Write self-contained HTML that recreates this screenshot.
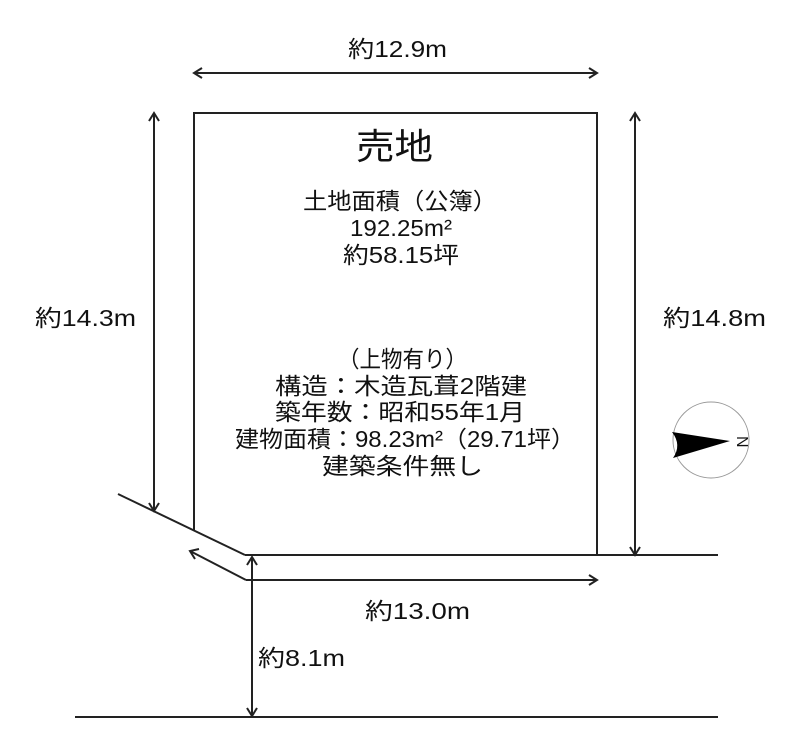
<!DOCTYPE html>
<html><head><meta charset="utf-8"><style>
html,body{margin:0;padding:0;background:#fff;}
svg{display:block;}
text{font-family:"Liberation Sans","Noto Sans CJK JP",sans-serif;fill:#111;}
</style></head><body>
<svg width="800" height="751" viewBox="0 0 800 751" xmlns="http://www.w3.org/2000/svg">
<g stroke="#222" stroke-width="2" fill="none">
<polyline points="194,531 194,113 597,113 597,555"/>
<line x1="118" y1="494" x2="245" y2="555"/>
<line x1="245" y1="555" x2="718" y2="555"/>
<line x1="246" y1="580" x2="190" y2="551"/>
<polyline points="199,549 190,551 195,559"/>
<line x1="246" y1="580" x2="597" y2="580"/>
<polyline points="589,575 597,580 589,585"/>
<line x1="75" y1="717" x2="718" y2="717"/>
<line x1="194" y1="73" x2="597" y2="73"/>
<polyline points="202,68 194,73 202,78"/>
<polyline points="589,68 597,73 589,78"/>
<line x1="154" y1="113" x2="154" y2="511"/>
<polyline points="149,121 154,113 159,121"/>
<polyline points="149,503 154,511 159,503"/>
<line x1="635" y1="113" x2="635" y2="555"/>
<polyline points="630,121 635,113 640,121"/>
<polyline points="630,547 635,555 640,547"/>
<line x1="252" y1="557" x2="252" y2="716"/>
<polyline points="247,565 252,557 257,565"/>
<polyline points="247,708 252,716 257,708"/>
</g>
<circle cx="711" cy="440" r="38" fill="none" stroke="#999" stroke-width="1"/>
<path d="M672,432 L730,441 L673,458 Q682,445 672,432 Z" fill="#000"/>
<text x="738" y="447" font-size="16" font-family="Liberation Serif,serif" transform="rotate(90 743 441)">N</text>
<g font-size="23" lengthAdjust="spacingAndGlyphs">
<text x="348" y="57" textLength="99" lengthAdjust="spacingAndGlyphs">約12.9m</text>
<text x="35" y="326" textLength="101" lengthAdjust="spacingAndGlyphs">約14.3m</text>
<text x="663" y="326" textLength="103" lengthAdjust="spacingAndGlyphs">約14.8m</text>
<text x="365" y="619" textLength="105" lengthAdjust="spacingAndGlyphs">約13.0m</text>
<text x="258" y="666" textLength="87" lengthAdjust="spacingAndGlyphs">約8.1m</text>
<text x="356" y="159" font-size="36" textLength="77" lengthAdjust="spacingAndGlyphs">売地</text>
<text x="303" y="209" textLength="194" lengthAdjust="spacingAndGlyphs">土地面積（公簿）</text>
<text x="350" y="236" textLength="102" lengthAdjust="spacingAndGlyphs">192.25m&#178;</text>
<text x="343" y="263" textLength="116" lengthAdjust="spacingAndGlyphs">約58.15坪</text>
<text x="338" y="367" textLength="129" lengthAdjust="spacingAndGlyphs">（上物有り）</text>
<text x="275" y="394" textLength="252" lengthAdjust="spacingAndGlyphs">構造：木造瓦葺2階建</text>
<text x="275" y="420" textLength="250" lengthAdjust="spacingAndGlyphs">築年数：昭和55年1月</text>
<text x="235" y="447" textLength="340" lengthAdjust="spacingAndGlyphs">建物面積：98.23m&#178;（29.71坪）</text>
<text x="322" y="474" textLength="161" lengthAdjust="spacingAndGlyphs">建築条件無し</text>
</g>
</svg>
</body></html>
